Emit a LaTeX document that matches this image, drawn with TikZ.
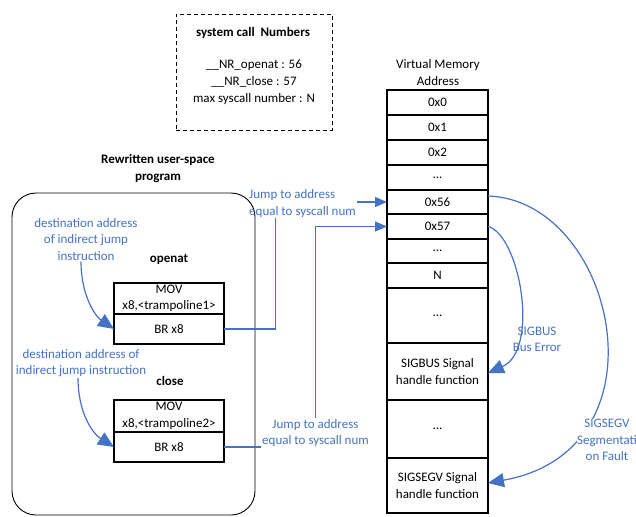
\documentclass[tikz,border=0pt]{standalone}
\usepackage{fontspec}
\setmainfont{Carlito}
\usetikzlibrary{arrows.meta,calc}
\definecolor{oblue}{RGB}{68,114,196}
\begin{document}
\begin{tikzpicture}[x=1pt,y=-1pt,
  every node/.style={font=\fontsize{13}{16.5}\selectfont, inner sep=1pt, outer sep=0pt, align=center},
  memcell/.style={draw, line width=2pt, minimum width=101pt},
  instr/.style={draw, line width=2pt, minimum width=110pt, inner sep=0pt, font=\fontsize{13}{16.5}\selectfont},
  bluetxt/.style={text=oblue},
  bluearr/.style={draw=oblue, line width=1.2pt, -{Triangle[length=12pt,width=10pt]}},
  bigarr/.style={draw=oblue, line width=1.2pt, -{Triangle[length=16pt,width=14pt]}},
  blueline/.style={draw=oblue, line width=1.2pt},
  ttl/.style={font=\fontsize{13}{17}\selectfont\bfseries}]
\useasboundingbox (0,0) rectangle (636,516);

% system call numbers box
\node[draw, dash pattern=on 4pt off 3pt, line width=0.9pt, minimum width=156pt, minimum height=116pt] (sysbox) at (254,72) {};
\node[ttl] (systitle) at (253,33) {system call\ \ Numbers};
\node[font=\fontsize{13}{17}\selectfont] (sysnums) at (254,82) {\_\_NR\_openat : 56\\\_\_NR\_close : 57\\max syscall number : N};

% left program box
\node[ttl] (rwtitle) at (158,168.5) {Rewritten user-space\\program};
\draw[line width=0.9pt, rounded corners=24pt] (12,193) rectangle (255,515);
\node[ttl] (opentitle) at (169,259) {openat};
\node[ttl] (closetitle) at (170,381) {close};
\node[instr, minimum height=31pt] (mov1) at (169,298.5) {MOV\\x8,<trampoline1>};
\node[instr, minimum height=30pt] (br1) at (169,329) {BR x8};
\node[instr, minimum height=32pt] (mov2) at (169,416) {MOV\\x8,<trampoline2>};
\node[instr, minimum height=30pt] (br2) at (169,447) {BR x8};

\node[bluetxt] (d1) at (86,239.5) {destination address\\of indirect jump\\instruction};
\node[bluetxt] (d2) at (81,363) {destination address of\\indirect jump instruction};

% memory column
\node (vmtitle) at (438,72.5) {Virtual Memory\\Address};
\node[memcell, minimum height=25pt] (m0) at (437.5,102.5) {0x0};
\node[memcell, minimum height=25pt] (m1) at (437.5,127.5) {0x1};
\node[memcell, minimum height=25pt] (m2) at (437.5,152.5) {0x2};
\node[memcell, minimum height=25pt] (md1) at (437.5,177.5) {...};
\node[memcell, minimum height=24pt] (m56) at (437.5,202) {0x56};
\node[memcell, minimum height=25pt] (m57) at (437.5,226.5) {0x57};
\node[memcell, minimum height=24pt] (md2) at (437.5,251) {...};
\node[memcell, minimum height=25pt] (mN) at (437.5,275.5) {N};
\node[memcell, minimum height=55pt] (md3) at (437.5,315.5) {...};
\node[memcell, minimum height=57pt] (msigbus) at (437.5,371.5) {SIGBUS Signal\\handle function};
\node[memcell, minimum height=58pt] (md4) at (437.5,429) {...};
\node[memcell, minimum height=55pt] (msigsegv) at (437.5,485.5) {SIGSEGV Signal\\handle function};

% jump labels
\node[bluetxt, align=left] (j1) at (302.5,203.5) {Jump to address\\equal to syscall num};
\node[bluetxt] (j2) at (315.5,433) {Jump to address\\equal to syscall num};

% connectors
\draw[bigarr] ([xshift=-5pt]d1.south) .. controls (81,295) and (95,316) .. (br1.west);
\draw[bigarr] ([xshift=-3pt]d2.south) .. controls (78,412) and (92,433) .. (br2.west);
\draw[blueline] (br1.east) -| ([xshift=27pt]j1.south west);
\draw[bluearr] (j1.east |- m56.west) -- (m56.west);
\draw[blueline] (br2.east) -- (br2.east -| j2.west);
\draw[bluearr] (j2.north) |- (m57.west);
\draw[bigarr] ([yshift=6pt]m56.east) .. controls (615,200) and (672,450) .. ([yshift=2.5pt]msigsegv.east);
\draw[bigarr] (m57.east) .. controls (520,235) and (540,350) .. ([yshift=-1.5pt]msigbus.east);

% signal labels
\node[bluetxt] (sigbuslbl) at (537,339.5) {SIGBUS\\Bus Error};
\node[bluetxt, fill=white, inner sep=0pt] (sigsegvlbl) at (607,440) {SIGSEGV\\Segmentati\\on Fault};
\end{tikzpicture}
\end{document}
